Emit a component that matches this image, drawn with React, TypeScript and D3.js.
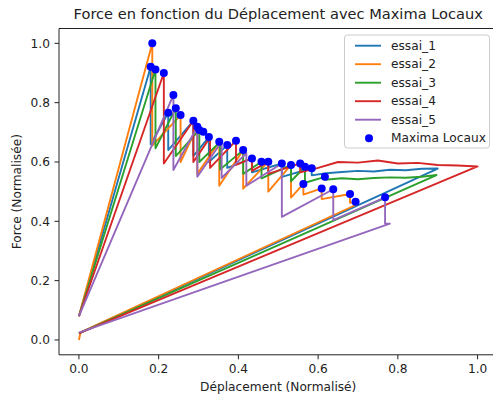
import * as d3 from "d3";

const W = 493;
const H = 398;

// axes box (matplotlib default 5% margins on 0..1 data)
const LEFT = 59;
const RIGHT = 497.5;
const TOP = 28.5;
const BOTTOM = 354.8;

const seriesNames = ["essai_1", "essai_2", "essai_3", "essai_4", "essai_5"];
const seriesColors = ["#1f77b4", "#ff7f0e", "#2ca02c", "#d62728", "#9467bd"];

const essai1X = [0, 0.18, 0.18, 0.224, 0.224, 0.287, 0.287, 0.326, 0.326, 0.372, 0.372, 0.434, 0.434, 0.509, 0.509, 0.584, 0.584, 0.62, 0.66, 0.7, 0.74, 0.78, 0.82, 0.86, 0.9, 0];
const essai1Y = [0.08, 0.921, 0.66, 0.766, 0.64, 0.739, 0.62, 0.684, 0.6, 0.657, 0.58, 0.612, 0.565, 0.595, 0.55, 0.579, 0.555, 0.562, 0.566, 0.57, 0.568, 0.574, 0.572, 0.577, 0.578, 0.022];

const essai2X = [0, 0.184, 0.184, 0.255, 0.255, 0.297, 0.297, 0.352, 0.352, 0.412, 0.412, 0.475, 0.475, 0.532, 0.532, 0.563, 0.563, 0.609, 0.609, 0.68, 0.68, 0.694, 0.694, 0.004, 0];
const essai2Y = [0.08, 1.0, 0.655, 0.758, 0.6, 0.719, 0.56, 0.668, 0.52, 0.64, 0.51, 0.601, 0.5, 0.59, 0.48, 0.526, 0.49, 0.511, 0.475, 0.492, 0.462, 0.466, 0.455, 0.026, 0];

const essai3X = [0, 0.192, 0.192, 0.243, 0.243, 0.302, 0.302, 0.354, 0.354, 0.412, 0.412, 0.458, 0.458, 0.532, 0.532, 0.567, 0.567, 0.617, 0.617, 0.66, 0.7, 0.74, 0.78, 0.82, 0.86, 0.897, 0];
const essai3Y = [0.08, 0.912, 0.646, 0.781, 0.62, 0.708, 0.6, 0.668, 0.575, 0.64, 0.56, 0.601, 0.545, 0.59, 0.535, 0.584, 0.53, 0.55, 0.54, 0.545, 0.542, 0.546, 0.548, 0.547, 0.55, 0.556, 0.022];

const essai4X = [0, 0.213, 0.213, 0.287, 0.287, 0.329, 0.329, 0.394, 0.394, 0.434, 0.434, 0.475, 0.475, 0.555, 0.555, 0.6, 0.65, 0.7, 0.75, 0.8, 0.85, 0.9, 0.95, 1.0, 0];
const essai4Y = [0.08, 0.9, 0.595, 0.739, 0.6, 0.683, 0.58, 0.672, 0.59, 0.612, 0.57, 0.601, 0.56, 0.595, 0.565, 0.58, 0.6, 0.598, 0.605, 0.595, 0.597, 0.59, 0.588, 0.585, 0.022];

const essai5X = [0, 0.237, 0.237, 0.297, 0.297, 0.358, 0.358, 0.42, 0.42, 0.509, 0.509, 0.638, 0.638, 0.768, 0.768, 0.78, 0];
const essai5Y = [0.08, 0.826, 0.573, 0.719, 0.55, 0.668, 0.546, 0.63, 0.52, 0.595, 0.415, 0.508, 0.404, 0.481, 0.392, 0.392, 0.025];

const maximaX = [0.18, 0.184, 0.192, 0.213, 0.224, 0.237, 0.243, 0.255, 0.287, 0.297, 0.302, 0.312, 0.326, 0.352, 0.372, 0.394, 0.412, 0.434, 0.458, 0.475, 0.509, 0.532, 0.555, 0.567, 0.584, 0.617, 0.563, 0.609, 0.638, 0.68, 0.694, 0.768];
const maximaY = [0.921, 1.0, 0.912, 0.9, 0.766, 0.826, 0.781, 0.758, 0.739, 0.719, 0.708, 0.702, 0.684, 0.668, 0.657, 0.672, 0.64, 0.612, 0.601, 0.601, 0.595, 0.59, 0.595, 0.584, 0.579, 0.55, 0.526, 0.511, 0.508, 0.492, 0.466, 0.481];

const xTicks = [0, 0.2, 0.4, 0.6, 0.8, 1.0];
const yTicks = [0, 0.2, 0.4, 0.6, 0.8, 1.0];

const seriesX = [essai1X, essai2X, essai3X, essai4X, essai5X];
const seriesY = [essai1Y, essai2Y, essai3Y, essai4Y, essai5Y];

const FONT = "DejaVu Sans";
const FS = 12.2;

export default function App() {
  const x = d3.scaleLinear().domain([-0.05, 1.05]).range([LEFT, RIGHT]);
  const y = d3.scaleLinear().domain([-0.05, 1.05]).range([BOTTOM, TOP]);

  const paths = seriesX.map((xs, s) => {
    const pts: [number, number][] = xs.map((v, i) => [x(v), y(seriesY[s][i])]);
    return d3.line()(pts);
  });

  const legendY = [45.7, 64.2, 82.7, 101.2, 119.7, 138.2];

  return (
    <svg width={W} height={H} style={{ position: "absolute", left: 0, top: 0, background: "#fff" }}>
      <rect width={W} height={H} fill="#fff" />
      <defs>
        <clipPath id="plot">
          <rect x={LEFT} y={TOP} width={RIGHT - LEFT} height={BOTTOM - TOP} />
        </clipPath>
      </defs>

      <g clipPath="url(#plot)">
        {paths.map((p, i) => (
          <path key={i} d={p ?? ""} fill="none" stroke={seriesColors[i]} strokeWidth={1.9} strokeLinejoin="round" />
        ))}
        {maximaX.map((v, i) => (
          <circle key={i} cx={x(v)} cy={y(maximaY[i])} r={4} fill="#0000ff" />
        ))}
      </g>

      {/* spines */}
      <path d={`M${LEFT},${BOTTOM}V${TOP}H${RIGHT}`} fill="none" stroke="#222" strokeWidth={1} />
      <line x1={LEFT} x2={RIGHT} y1={BOTTOM} y2={BOTTOM} stroke="#222" strokeWidth={1} />

      {xTicks.map((t) => (
        <g key={t} transform={`translate(${x(t)},${BOTTOM})`}>
          <line y2={4.5} stroke="#222" />
          <text y={18.5} textAnchor="middle" fontFamily={FONT} fontSize={FS} fill="#222">
            {t.toFixed(1)}
          </text>
        </g>
      ))}
      {yTicks.map((t) => (
        <g key={t} transform={`translate(${LEFT},${y(t)})`}>
          <line x2={-4.5} stroke="#222" />
          <text x={-9} dy="0.35em" textAnchor="end" fontFamily={FONT} fontSize={FS} fill="#222">
            {t.toFixed(1)}
          </text>
        </g>
      ))}

      <text x={(LEFT + RIGHT) / 2} y={19} textAnchor="middle" fontFamily={FONT} fontSize={14.6} fill="#222">
        Force en fonction du Déplacement avec Maxima Locaux
      </text>
      <text x={(LEFT + RIGHT) / 2} y={391} textAnchor="middle" fontFamily={FONT} fontSize={FS} fill="#222">
        Déplacement (Normalisé)
      </text>
      <text transform={`translate(21,${(TOP + BOTTOM) / 2}) rotate(-90)`} textAnchor="middle" fontFamily={FONT} fontSize={FS} fill="#222">
        Force (Normalisée)
      </text>

      {/* legend */}
      <rect x={344.5} y={35} width={145} height={113} rx={3} fill="#fff" fillOpacity={0.8} stroke="#ccc" />
      {seriesNames.map((n, i) => (
        <g key={n}>
          <line x1={355} x2={381} y1={legendY[i]} y2={legendY[i]} stroke={seriesColors[i]} strokeWidth={1.9} />
          <text x={391} y={legendY[i]} dy="0.35em" fontFamily={FONT} fontSize={FS} fill="#222">
            {n}
          </text>
        </g>
      ))}
      <circle cx={369} cy={legendY[5]} r={4} fill="#0000ff" />
      <text x={391} y={legendY[5]} dy="0.35em" fontFamily={FONT} fontSize={FS} fill="#222">
        Maxima Locaux
      </text>
    </svg>
  );
}
